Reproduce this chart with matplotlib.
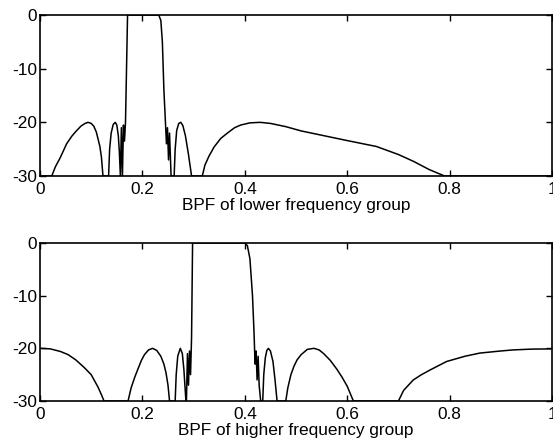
import matplotlib.pyplot as plt
import numpy as np

plt.rcParams['font.family'] = ['Liberation Sans', 'DejaVu Sans']
plt.rcParams['axes.unicode_minus'] = False

# magnitude response (dB), clipped at -30
low_f = [0.0, 0.023, 0.03, 0.04, 0.052, 0.062, 0.071, 0.08, 0.088, 0.094, 0.1, 0.105, 0.11, 0.117, 0.12, 0.123,
         0.134, 0.136, 0.139, 0.143, 0.147, 0.15, 0.153, 0.155, 0.157,
         0.159, 0.161, 0.163, 0.165, 0.167, 0.169, 0.171,
         0.2, 0.232, 0.236, 0.239, 0.242, 0.245, 0.247, 0.249, 0.251, 0.253, 0.256,
         0.262, 0.264, 0.267, 0.271, 0.275, 0.279, 0.284, 0.29, 0.296,
         0.317, 0.322, 0.33, 0.34, 0.353, 0.366, 0.38, 0.392, 0.41, 0.43, 0.45, 0.48, 0.51, 0.55, 0.6,
         0.657, 0.7, 0.73, 0.76, 0.79, 1.0]
low_db = [-30, -30, -28.3, -26.5, -24, -22.6, -21.6, -20.7, -20.2, -20, -20.2, -20.7, -21.8, -24.5, -26.5, -30,
          -30, -25, -22, -20.4, -20, -20.5, -22.5, -25.5, -30,
          -21, -30, -20.5, -23.5, -20, -10, 0,
          0, 0, -1, -5, -14, -20, -24, -21, -27, -22, -30,
          -30, -25, -21.5, -20.2, -20, -20.6, -22.5, -26, -30,
          -30, -28, -26.3, -24.6, -23, -22, -21, -20.5, -20.1, -20, -20.2, -20.8, -21.6, -22.4, -23.4,
          -24.5, -26, -27.3, -28.8, -30, -30]

high_f = [0.0, 0.02, 0.04, 0.055, 0.07, 0.087, 0.1, 0.113, 0.12, 0.125,
          0.172, 0.178, 0.185, 0.191, 0.198, 0.204, 0.212, 0.22, 0.228, 0.236, 0.242, 0.246, 0.25, 0.253,
          0.264, 0.266, 0.269, 0.274, 0.278, 0.281, 0.285,
          0.286, 0.288, 0.29, 0.292, 0.294, 0.296, 0.298,
          0.35, 0.4, 0.405, 0.41, 0.415, 0.418, 0.42, 0.422, 0.424, 0.426, 0.428, 0.431,
          0.435, 0.437, 0.44, 0.443, 0.446, 0.45, 0.455, 0.459, 0.463,
          0.48, 0.484, 0.49, 0.496, 0.502, 0.51, 0.522, 0.535, 0.545, 0.554, 0.567, 0.58, 0.59, 0.6, 0.612,
          0.7, 0.71, 0.729, 0.745, 0.762, 0.78, 0.794, 0.83, 0.859, 0.9, 0.924, 0.96, 1.0]
high_db = [-20, -20.1, -20.6, -21.2, -22.2, -23.7, -25, -27.3, -28.8, -30,
           -30, -27.5, -25.5, -24, -22.3, -21.2, -20.3, -20, -20.4, -21.5, -23, -24.6, -27, -30,
           -30, -25, -21.5, -20, -21, -24, -30,
           -30, -21, -27, -20.5, -25, -18, 0,
           0, 0, -0.5, -3, -10, -17, -23, -20.5, -26, -21.5, -27, -30,
           -30, -25, -21.8, -20.4, -20, -20.5, -22.5, -26, -30,
           -30, -27.5, -25, -23.4, -22.2, -21.2, -20.2, -20, -20.3, -21, -22.3, -24, -25.5, -27.2, -30,
           -30, -28, -26, -25, -24.1, -23.2, -22.5, -21.5, -20.9, -20.5, -20.3, -20.15, -20.1]

xticks = [0, 0.2, 0.4, 0.6, 0.8, 1]
xticklabels = ['0', '0.2', '0.4', '0.6', '0.8', '1']
yticks = [0, -10, -20, -30]
yticklabels = ['0', '-10', '-20', '-30']

fig = plt.figure(figsize=(5.53, 4.47), dpi=100)
ax1 = fig.add_axes([0.0723, 0.6063, 0.926, 0.360])
ax2 = fig.add_axes([0.0723, 0.1029, 0.926, 0.3535])

for ax, f, db, name in [(ax1, low_f, low_db, 'BPF of lower frequency group'),
                        (ax2, high_f, high_db, 'BPF of higher frequency group')]:
    ax.plot(f, np.clip(db, -30, 0), color='black', lw=1.1)
    ax.set_xlim(0, 1)
    ax.set_ylim(-30, 0)
    ax.set_xticks(xticks)
    ax.set_xticklabels(xticklabels)
    ax.set_yticks(yticks)
    ax.set_yticklabels(yticklabels)
    ax.tick_params(direction='in', top=True, right=True, length=4, width=1,
                   labelsize=12.4, pad=2)
    ax.tick_params(axis='x', pad=4)
    for s in ax.spines.values():
        s.set_linewidth(1.2)
    ax.set_xlabel(name, fontsize=12.4, labelpad=1)

fig.savefig('out.png', dpi=100)
